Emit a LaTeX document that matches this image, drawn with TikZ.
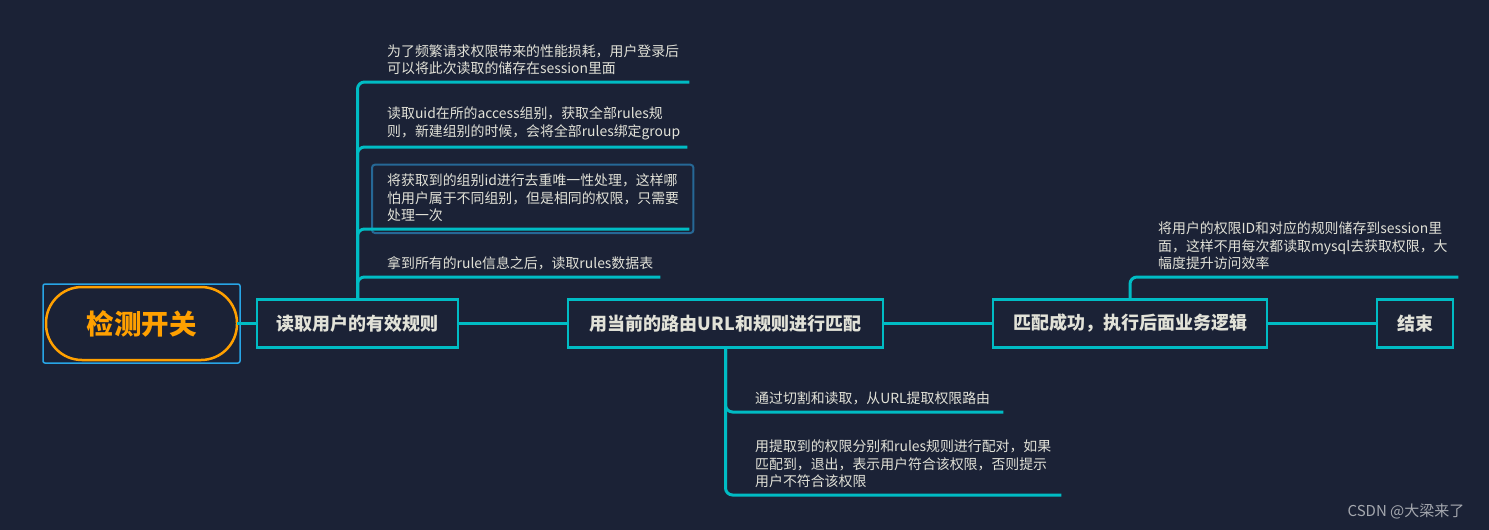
\documentclass[tikz,border=0pt]{standalone}
\usepackage{fontspec}
\setmainfont{Noto Sans CJK SC}
\usetikzlibrary{positioning,fit}
\definecolor{bgnavy}{RGB}{27,34,54}
\definecolor{tealline}{RGB}{0,188,196}
\definecolor{rootorange}{RGB}{255,160,0}
\definecolor{selblue}{RGB}{40,165,230}
\definecolor{seldark}{RGB}{38,104,150}
\definecolor{labelgray}{RGB}{226,226,216}
\definecolor{markgray}{RGB}{165,168,175}
\tikzset{
  block/.style={
    draw=tealline,
    line width=2.5pt,
    fill=bgnavy,
    minimum height=48pt,
    inner sep=4pt,
    outer sep=0pt,
    text=labelgray,
    font=\fontsize{18}{21}\selectfont\bfseries
  },
  leaf/.style={
    anchor=south west,
    align=left,
    inner xsep=4pt,
    inner ysep=7pt,
    text=labelgray,
    font=\fontsize{13.9}{17.5}\selectfont
  },
  branch/.style={draw=tealline, line width=3pt, rounded corners=7pt},
  line/.style={draw=tealline, line width=3pt}
}

\begin{document}
\begin{tikzpicture}[x=1pt, y=-1pt, node distance=110pt]
        \fill[bgnavy] (0,0) rectangle (1489,530);
        \useasboundingbox (0,0) rectangle (1489,530);
        \node[draw=rootorange, line width=2.5pt, rounded corners=36pt, minimum width=191pt, minimum height=73pt, outer sep=0pt,
              text=rootorange, font=\fontsize{27.5}{30}\selectfont\bfseries] (root) at (141.5,323.5) {检测开关};
        \node[draw=selblue, line width=1.5pt, rounded corners=2pt, fit=(root), inner sep=3pt] (rootsel) {};
        \node[block, minimum width=201pt, right=20pt of root] (s1) {读取用户的有效规则};
        \node[block, minimum width=315pt, right=of s1] (s2) {用当前的路由URL和规则进行匹配};
        \node[block, minimum width=274pt, right=of s2] (s3) {匹配成功，执行后面业务逻辑};
        \node[block, minimum width=76pt, right=of s3] (s4) {结束};
        % leaves of s1
        \node[leaf, text width=298pt] (a1) at (383,82) {为了频繁请求权限带来的性能损耗，用户登录后\\可以将此次读取的储存在session里面};
        \node[leaf, text width=296pt] (a2) at (383,147) {读取uid在所的access组别，获取全部rules规\\则，新建组别的时候，会将全部rules绑定group};
        \node[leaf, text width=298pt] (a3) at (383,229) {将获取到的组别id进行去重唯一性处理，这样哪\\怕用户属于不同组别，但是相同的权限，只需要\\处理一次};
        \node[leaf, text width=269pt] (a4) at (383,277) {拿到所有的rule信息之后，读取rules数据表};
        \draw[draw=seldark, line width=2pt, rounded corners=3pt]
          ([shift={(-11pt,-4pt)}]a3.south west) rectangle ([shift={(4pt,2pt)}]a3.north east);
        % leaves of s2
        \node[leaf, text width=244pt] (b1) at (751,412) {通过切割和读取，从URL提取权限路由};
        \node[leaf, text width=302pt] (b2) at (751,495) {用提取到的权限分别和rules规则进行配对，如果\\匹配到，退出，表示用户符合该权限，否则提示\\用户不符合该权限};
        % leaf of s3
        \node[leaf, text width=296pt] (c1) at (1154,277) {将用户的权限ID和对应的规则储存到session里\\面，这样不用每次都读取mysql去获取权限，大\\幅度提升访问效率};
        \draw[branch] (s1.north) |- (a1.south east);
        \draw[branch] (s1.north) |- (a2.south east);
        \draw[branch] (s1.north) |- (a3.south east);
        \draw[branch] (s1.north) |- (a4.south east);
        \draw[branch] (s2.south) |- (b1.south east);
        \draw[branch] (s2.south) |- (b2.south east);
        \draw[branch] (s3.north) |- (c1.south east);
        \draw[line] (root) -- (s1);
        \draw[line] (s1) -- (s2);
        \draw[line] (s2) -- (s3);
        \draw[line] (s3) -- (s4);
        \node[text=markgray, font=\fontsize{15}{18}\selectfont] (mark) at (1406,511) {CSDN @大梁来了};
      \end{tikzpicture}
\end{document}
